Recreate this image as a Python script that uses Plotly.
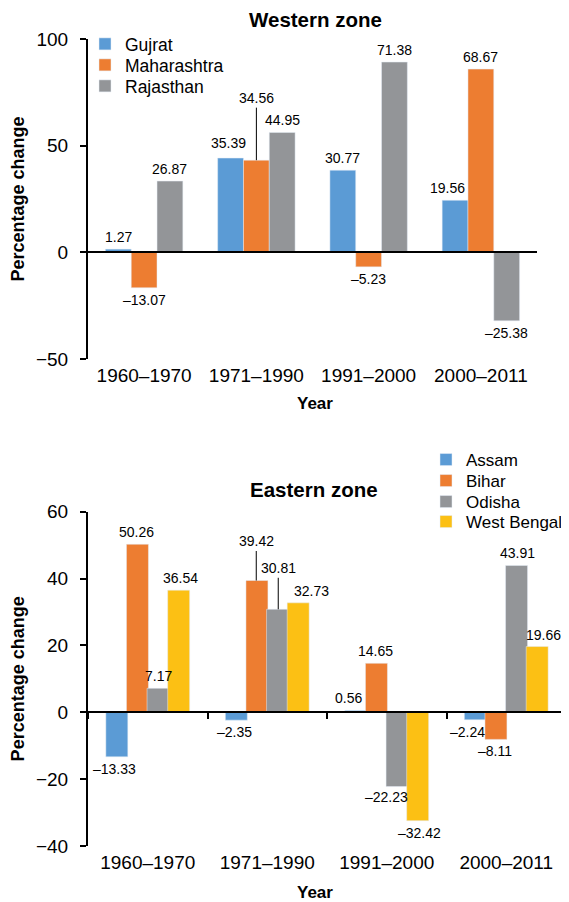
import plotly.graph_objects as go

years = ["1960–1970", "1971–1990", "1991–2000", "2000–2011"]

# Western zone: printed labels, and bar heights as drawn in the picture
west_states = ["Gujrat", "Maharashtra", "Rajasthan"]
gujrat_label = [1.27, 35.39, 30.77, 19.56]
maha_label = [-13.07, 34.56, -5.23, 68.67]
raj_label = [26.87, 44.95, 71.38, -25.38]
gujrat_bar = [1.5, 44.2, 38.5, 24.4]
maha_bar = [-16.6, 43.2, -6.8, 85.9]
raj_bar = [33.4, 56.2, 89.2, -32.1]

# Eastern zone
east_states = ["Assam", "Bihar", "Odisha", "West Bengal"]
assam = [-13.33, -2.35, 0.56, -2.24]
bihar = [50.26, 39.42, 14.65, -8.11]
odisha = [7.17, 30.81, -22.23, 43.91]
west_bengal = [36.54, 32.73, -32.42, 19.66]

BLUE, ORANGE, GRAY, YELLOW = "#5B9BD5", "#ED7D31", "#939598", "#FCC014"
FONT = "Liberation Sans, Arial, Helvetica, sans-serif"

# the page body adds an 8px margin, so the figure is 8px smaller than the window
OFF = 8
W, H = 569 - OFF, 902 - OFF
ML, MR, MT, MB = 88 - OFF, 3, 39 - OFF, 56
PW, PH = W - ML - MR, H - MT - MB


def px_x(x):
    # window pixel -> paper fraction
    return (x - OFF - ML) / PW


def px_y(y):
    return 1 - (y - OFF - MT) / PH


def fmt(v):
    return f"{v:.2f}".replace("-", "–")


west_dom_y = [px_y(359), 1.0]
east_dom_y = [0.0, px_y(511.7)]
west_dom_x = [0.0, px_x(537)]
west_range = [-50, 100]
east_range = [-40, 60]
west_gap, east_gap = 0.31, 0.264


def zero_pos(dom, rng):
    return dom[0] + (0 - rng[0]) / (rng[1] - rng[0]) * (dom[1] - dom[0])


def bar_center(i, j, n, gap):
    w = (1 - gap) / n
    return i - (1 - gap) / 2 + (j + 0.5) * w


west_series = [
    ("Gujrat", gujrat_bar, gujrat_label, BLUE),
    ("Maharashtra", maha_bar, maha_label, ORANGE),
    ("Rajasthan", raj_bar, raj_label, GRAY),
]
east_series = [
    ("Assam", assam, assam, BLUE),
    ("Bihar", bihar, bihar, ORANGE),
    ("Odisha", odisha, odisha, GRAY),
    ("West Bengal", west_bengal, west_bengal, YELLOW),
]

# one legend per entry so the rows sit at the reference spacing
west_rows = [44, 65, 86]
east_rows = [460, 481, 502, 522]
legend_style = dict(xanchor="left", yanchor="middle", bgcolor="rgba(0,0,0,0)",
                    font=dict(family=FONT, size=17.5, color="black"))
legends = {}

fig = go.Figure()
k = 0
for (name, bars, _, col), row in zip(west_series, west_rows):
    k += 1
    lid = "legend" if k == 1 else f"legend{k}"
    legends[lid] = dict(legend_style, x=px_x(85), y=px_y(row))
    fig.add_trace(go.Bar(x=years, y=bars, name=name, marker_color=col,
                         xaxis="x", yaxis="y", legend=lid))
for (name, bars, _, col), row in zip(east_series, east_rows):
    k += 1
    lid = f"legend{k}"
    legends[lid] = dict(legend_style, x=px_x(426), y=px_y(row),
                        font=dict(family=FONT, size=17, color="black"))
    fig.add_trace(go.Bar(x=years, y=bars, name=name, marker_color=col,
                         xaxis="x2", yaxis="y2", legend=lid,
                         width=(1 - east_gap) / 4))

# invisible traces carrying the category tick labels at the bottom of each panel
for xa, ya in [("x3", "y"), ("x4", "y2")]:
    fig.add_trace(go.Scatter(x=years, y=[0] * len(years), mode="markers",
                             marker=dict(opacity=0), showlegend=False,
                             hoverinfo="skip", xaxis=xa, yaxis=ya))

zero_axis = dict(type="category", categoryarray=years, range=[-0.5, 3.5],
                 anchor="free", showline=True, linecolor="black", linewidth=1.5,
                 showticklabels=False, showgrid=False, zeroline=False, automargin=False,
                 tickson="boundaries", ticklen=6, tickwidth=1.5, tickcolor="black")
label_axis = dict(type="category", categoryarray=years, range=[-0.5, 3.5],
                  side="bottom", showline=False, ticks="", automargin=False,
                  showgrid=False, zeroline=False, ticklabelstandoff=3,
                  tickfont=dict(family=FONT, size=19, color="black"))
y_axis = dict(showline=True, linecolor="black", linewidth=2, ticks="outside",
              ticklen=6, tickwidth=2, tickcolor="black", showgrid=False,
              zeroline=False, ticklabelstandoff=8, automargin=False,
              tickfont=dict(family=FONT, size=19, color="black"),
              title=dict(text="Percentage change", standoff=10,
                         font=dict(family=FONT, size=18, color="black", weight="bold")))

fig.update_layout(
    width=W, height=H, margin=dict(l=ML, r=MR, t=MT, b=MB, autoexpand=False),
    plot_bgcolor="white", paper_bgcolor="white",
    barmode="group", bargap=west_gap, showlegend=True,
    xaxis=dict(zero_axis, domain=west_dom_x, position=zero_pos(west_dom_y, west_range), ticks=""),
    xaxis2=dict(zero_axis, domain=[0, 1], position=zero_pos(east_dom_y, east_range), ticks="outside"),
    xaxis3=dict(label_axis, domain=west_dom_x, overlaying="x", anchor="y"),
    xaxis4=dict(label_axis, domain=[0, 1], overlaying="x2", anchor="y2"),
    yaxis=dict(y_axis, domain=west_dom_y, range=west_range, tickvals=[-50, 0, 50, 100], anchor="x"),
    yaxis2=dict(y_axis, domain=east_dom_y, range=east_range, tickvals=[-40, -20, 0, 20, 40, 60], anchor="x2"),
    **legends,
)

annotations = []
for text, xx, yy in [("Western zone", 315, 19), ("Eastern zone", 314, 489)]:
    annotations.append(dict(text=text, x=px_x(xx), y=px_y(yy), xref="paper", yref="paper",
                            showarrow=False, xanchor="center", yanchor="middle",
                            font=dict(family=FONT, size=20.5, color="black", weight="bold")))
for yy in (403, 893):
    annotations.append(dict(text="Year", x=px_x(315), y=px_y(yy), xref="paper", yref="paper",
                            showarrow=False, xanchor="center", yanchor="middle",
                            font=dict(family=FONT, size=17, color="black", weight="bold")))

# value labels: small nudges (px) where the printed label sits off-centre
nudge = {
    ("Gujrat", 1): (-2, 3), ("Gujrat", 3): (-8, 0),
    ("West Bengal", 1): (11, 0), ("Assam", 2): (-5, 0),
    ("Odisha", 2): (-11, -2), ("Assam", 3): (-6, 0), ("West Bengal", 3): (4, 0),
}
# labels joined to their bars by a thin leader line (vertical offset in px)
leader = {("Maharashtra", 1): -62, ("Bihar", 1): -39, ("Odisha", 1): -41}

label_font = dict(family=FONT, size=14, color="black")
for series, xr, yr, gap in [(west_series, "x", "y", west_gap), (east_series, "x2", "y2", east_gap)]:
    n = len(series)
    for j, (name, bars, labs, _) in enumerate(series):
        for i, (h, lab) in enumerate(zip(bars, labs)):
            xc = bar_center(i, j, n, gap)
            if (name, i) in leader:
                annotations.append(dict(text=fmt(lab), x=xc, y=h, xref=xr, yref=yr,
                                        showarrow=True, arrowhead=0, arrowwidth=1,
                                        arrowcolor="black", ax=0, ay=leader[(name, i)],
                                        standoff=0, font=label_font))
                continue
            dx, dy = nudge.get((name, i), (0, 0))
            sign = 1 if h >= 0 else -1
            annotations.append(dict(text=fmt(lab), x=xc, y=h, xref=xr, yref=yr,
                                    showarrow=False, xanchor="center", yanchor="middle",
                                    xshift=dx, yshift=sign * (12 + dy), font=label_font))
fig.update_layout(annotations=annotations)

fig.write_html("out.html")
